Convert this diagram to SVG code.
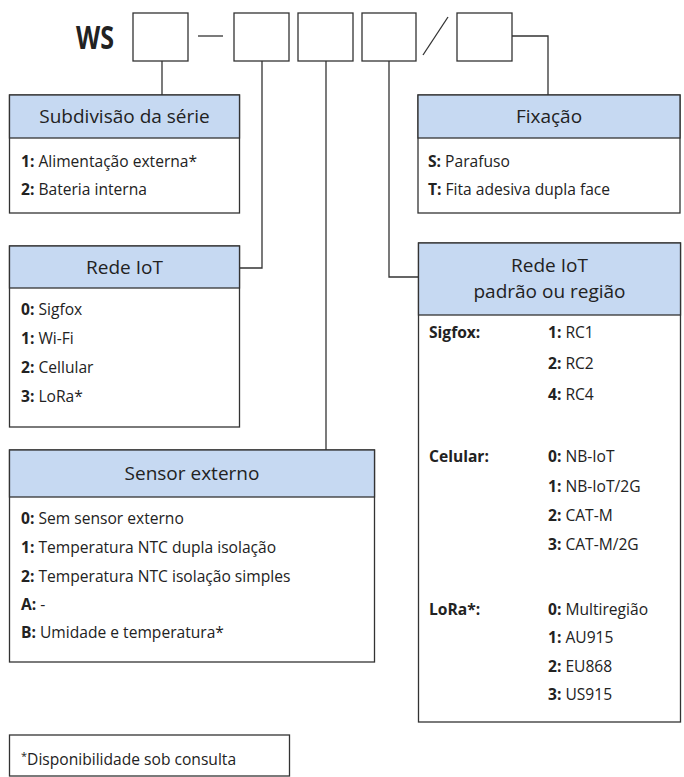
<svg xmlns="http://www.w3.org/2000/svg" width="684" height="777" viewBox="0 0 684 777">
<style>
.box{fill:#fff;stroke:#333;stroke-width:1.3}
.hdr{fill:#c6d9f2;stroke:#333;stroke-width:1.3}
.ln{fill:none;stroke:#333;stroke-width:1.3}
text{font-family:"Open Sans","DejaVu Sans",sans-serif;fill:#222}
.t{font-size:19px;text-anchor:middle;font-weight:500}
.i{font-size:15.6px}
.b{font-weight:bold}
</style>
<rect width="684" height="777" fill="#fff"/>
<g id="code">
<text x="76" y="49" style="font-size:32px;font-weight:bold" textLength="38" lengthAdjust="spacingAndGlyphs">WS</text>
<rect class="box" x="133" y="13" width="55" height="48"/>
<line class="ln" x1="198" y1="36" x2="223" y2="36"/>
<rect class="box" x="234" y="13" width="55" height="48"/>
<rect class="box" x="298" y="13" width="55" height="48"/>
<rect class="box" x="362" y="13" width="54" height="48"/>
<line class="ln" x1="423" y1="55" x2="448" y2="17"/>
<rect class="box" x="457" y="13" width="55" height="48"/>
</g>
<g id="connectors">
<polyline class="ln" points="162,61 162,95"/>
<polyline class="ln" points="262,61 262,268 239,268"/>
<polyline class="ln" points="326,61 326,450"/>
<polyline class="ln" points="389,61 389,277 418,277"/>
<polyline class="ln" points="512,36 548,36 548,95"/>
</g>
<g id="subdivisao">
<rect class="box" x="9.5" y="95" width="230" height="118"/>
<rect class="hdr" x="9.5" y="95" width="230" height="43"/>
<text class="t" x="124.5" y="123">Subdivisão da série</text>
<text class="i" x="21" y="167"><tspan class="b">1:</tspan> Alimentação externa*</text>
<text class="i" x="21" y="195"><tspan class="b">2:</tspan> Bateria interna</text>
</g>
<g id="fixacao">
<rect class="box" x="418" y="95" width="262" height="118"/>
<rect class="hdr" x="418" y="95" width="262" height="43"/>
<text class="t" x="549" y="123">Fixação</text>
<text class="i" x="428" y="167"><tspan class="b">S:</tspan> Parafuso</text>
<text class="i" x="428" y="195"><tspan class="b">T:</tspan> Fita adesiva dupla face</text>
</g>
<g id="redeiot">
<rect class="box" x="9.5" y="246" width="230" height="181"/>
<rect class="hdr" x="9.5" y="246" width="230" height="42"/>
<text class="t" x="124.5" y="274">Rede IoT</text>
<text class="i" x="21" y="315"><tspan class="b">0:</tspan> Sigfox</text>
<text class="i" x="21" y="344"><tspan class="b">1:</tspan> Wi-Fi</text>
<text class="i" x="21" y="373"><tspan class="b">2:</tspan> Cellular</text>
<text class="i" x="21" y="402"><tspan class="b">3:</tspan> LoRa*</text>
</g>
<g id="regiao">
<rect class="box" x="418.5" y="243" width="262" height="479"/>
<rect class="hdr" x="418.5" y="243" width="262" height="72"/>
<text class="t" x="549.5" y="272">Rede IoT</text>
<text class="t" x="549.5" y="298">padrão ou região</text>
<text class="i b" x="429" y="338">Sigfox:</text>
<text class="i" x="548" y="338"><tspan class="b">1:</tspan> RC1</text>
<text class="i" x="548" y="369"><tspan class="b">2:</tspan> RC2</text>
<text class="i" x="548" y="400"><tspan class="b">4:</tspan> RC4</text>
<text class="i b" x="429" y="462">Celular:</text>
<text class="i" x="548" y="462"><tspan class="b">0:</tspan> NB-IoT</text>
<text class="i" x="548" y="492"><tspan class="b">1:</tspan> NB-IoT/2G</text>
<text class="i" x="548" y="521"><tspan class="b">2:</tspan> CAT-M</text>
<text class="i" x="548" y="550"><tspan class="b">3:</tspan> CAT-M/2G</text>
<text class="i b" x="429" y="615">LoRa*:</text>
<text class="i" x="548" y="615"><tspan class="b">0:</tspan> Multiregião</text>
<text class="i" x="548" y="643"><tspan class="b">1:</tspan> AU915</text>
<text class="i" x="548" y="672"><tspan class="b">2:</tspan> EU868</text>
<text class="i" x="548" y="700"><tspan class="b">3:</tspan> US915</text>
</g>
<g id="sensor">
<rect class="box" x="9.5" y="450" width="365" height="212"/>
<rect class="hdr" x="9.5" y="450" width="365" height="47"/>
<text class="t" x="192" y="480">Sensor externo</text>
<text class="i" x="21" y="524"><tspan class="b">0:</tspan> Sem sensor externo</text>
<text class="i" x="21" y="553"><tspan class="b">1:</tspan> Temperatura NTC dupla isolação</text>
<text class="i" x="21" y="582"><tspan class="b">2:</tspan> Temperatura NTC isolação simples</text>
<text class="i" x="21" y="610"><tspan class="b">A:</tspan> -</text>
<text class="i" x="21" y="638"><tspan class="b">B:</tspan> Umidade e temperatura*</text>
</g>
<g id="nota">
<rect class="box" x="9.5" y="735" width="280" height="41"/>
<text class="i" x="21" y="765"><tspan style="font-size:11px" dy="-5">*</tspan><tspan dy="5">Disponibilidade sob consulta</tspan></text>
</g>
</svg>
